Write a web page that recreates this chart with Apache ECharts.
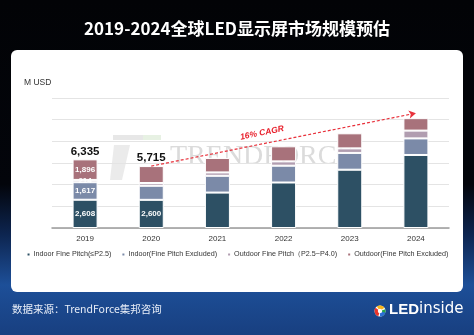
<!DOCTYPE html>
<html><head><meta charset="utf-8">
<script src="https://cdn.jsdelivr.net/npm/echarts@6/dist/echarts.min.js"></script>
<style>
html,body{margin:0;padding:0;width:474px;height:335px;overflow:hidden;}
body{background:linear-gradient(180deg,#020306 0%,#03050b 55%,#0d2550 70%,#1d4f98 85%,#183f80 100%);}
#panel{position:absolute;left:11px;top:50px;width:452px;height:242px;background:#fff;border-radius:6px;}
#chart{position:absolute;left:0;top:0;width:474px;height:335px;}
</style></head>
<body>
<div id="panel"></div>
<div id="chart"></div>
<script>
const categories = ['2019','2020','2021','2022','2023','2024'];
const indoorFine = [2608, 2600, 3270, 4200, 5380, 6740];
const indoorExcl = [1617, 1300, 1550, 1550, 1550, 1530];
const outdoorFine = [214, 250, 310, 400, 420, 720];
const outdoorExcl = [1896, 1565, 1335, 1390, 1390, 1150];
const totals = [6335, 5715, null, null, null, null];
const seriesNames = ['Indoor Fine Pitch(≤P2.5)','Indoor(Fine Pitch Excluded)','Outdoor Fine Pitch（P2.5~P4.0)','Outdoor(Fine Pitch Excluded)'];
const labeledIdx = {0:[0,1],1:[0],2:[0],3:[0]};
const cagrStart = ['2020', 5715];
const cagrEnd = ['2024', 10600];

const colors = ['#2d5064','#7b8aa8','#b19db0','#a8727b'];
const fmt = v => Number(v).toLocaleString('en-US');
const seriesData = [indoorFine, indoorExcl, outdoorFine, outdoorExcl];

const chart = echarts.init(document.getElementById('chart'), null, {renderer:'canvas'});
const series = seriesData.map((arr, si) => ({
  name: seriesNames[si], type:'bar', stack:'t', barWidth:25,
  itemStyle:{color:colors[si], borderColor:'#fff', borderWidth:1},
  data: arr.map((v,i)=>({value:v, label:{show: labeledIdx[si].includes(i)}})),
  label:{position:'inside', color:'#fff', fontSize:8, fontWeight:'bold', fontFamily:'Liberation Sans', formatter:p=>fmt(p.value)},
  z: 3
}));
series.push({
  name:'total', type:'bar', stack:'t', barWidth:25,
  data: totals.map(v=>0),
  itemStyle:{color:'transparent'},
  label:{show:true, position:'top', distance:2, color:'#111', fontSize:11.5, fontWeight:'bold', fontFamily:'Liberation Sans',
    formatter:p=> totals[p.dataIndex]==null ? '' : fmt(totals[p.dataIndex])},
  markLine:{
    silent:true, symbol:['none','arrow'], symbolSize:[6,7],
    lineStyle:{color:'#e8323c', type:[3,2], width:1.2},
    label:{show:false},
    data:[[{coord:cagrStart},{coord:cagrEnd}]]
  }
});
chart.setOption({
  animation:false,
  color:colors,
  graphic:[
    {type:'text', left:'center', top:20, style:{text:'2019-2024全球LED显示屏市场规模预估', fill:'#fff', font:'bold 17px "Noto Sans CJK SC"'}},
    {type:'text', left:24, top:78, style:{text:'M USD', fill:'#333', font:'8.5px "Liberation Sans"'}},
    {type:'rect', left:113, top:135, shape:{width:30,height:5}, style:{fill:'#cfcfcf', opacity:0.5}, z:0},
    {type:'rect', left:143, top:135, shape:{width:18,height:5}, style:{fill:'#cfe3c8', opacity:0.5}, z:0},
    {type:'polygon', shape:{points:[[114,145],[130,145],[122,180],[110,180]]}, style:{fill:'#d8d8d8', opacity:0.5}, z:0},
    {type:'text', left:170, top:143, style:{text:'TRENDFORCE', fill:'#bdbdbd', opacity:0.55, font:'28px "Liberation Serif"'}, z:0},
    {type:'group', x:262, y:133, rotation:0.2, z:10, children:[
      {type:'text', x:0, y:0, style:{text:'16% CAGR', fill:'#e8202c', font:'italic bold 8.5px "Liberation Sans"', align:'center', verticalAlign:'middle'}}
    ]},
    {type:'text', left:12, top:304, style:{text:'数据来源：TrendForce集邦咨询', fill:'#e8eef8', font:'10.5px "Noto Sans CJK SC"'}},
    {type:'circle', shape:{cx:380,cy:311,r:5.5}, style:{fill:'#fff'}},
    {type:'sector', shape:{cx:380,cy:311,r:5.5,r0:0,startAngle:Math.PI*0.6,endAngle:Math.PI*1.2}, style:{fill:'#e8342a'}},
    {type:'sector', shape:{cx:380,cy:311,r:5.5,r0:0,startAngle:Math.PI*1.3,endAngle:Math.PI*1.8}, style:{fill:'#f6b41c'}},
    {type:'sector', shape:{cx:380,cy:311,r:5.5,r0:0,startAngle:Math.PI*1.9,endAngle:Math.PI*2.4}, style:{fill:'#27a844'}},
    {type:'sector', shape:{cx:380,cy:311,r:5.5,r0:0,startAngle:Math.PI*0.1,endAngle:Math.PI*0.5}, style:{fill:'#2b6fd6'}},
    {type:'circle', shape:{cx:380,cy:311,r:2.2}, style:{fill:'#fff'}},
    {type:'text', left:389, top:302, style:{rich:{a:{fill:'#fff',font:'bold 15px "Liberation Sans"'},b:{fill:'#fff',font:'15px "DejaVu Sans"'}}, text:'{a|LED}{b|inside}'}}
  ],
  legend:{
    data:seriesNames, bottom:72, left:'center', itemWidth:4, itemHeight:4, itemGap:9,
    icon:'rect',
    textStyle:{fontSize:7.2, color:'#333', fontFamily:'Liberation Sans', padding:[0,0,0,-2]}
  },
  grid:{left:52, right:25, top:98, bottom:107},
  xAxis:{type:'category', data:categories,
    axisLine:{lineStyle:{color:'#9a9a9a', width:1.5}}, axisTick:{show:false},
    axisLabel:{color:'#333', fontSize:8, fontFamily:'Liberation Sans', margin:7}},
  yAxis:{type:'value', min:0, max:12000, interval:2000,
    axisLabel:{show:false}, axisLine:{show:false}, axisTick:{show:false},
    splitLine:{lineStyle:{color:'#e4e4e4', width:1}}},
  series
});
</script>
</body></html>
